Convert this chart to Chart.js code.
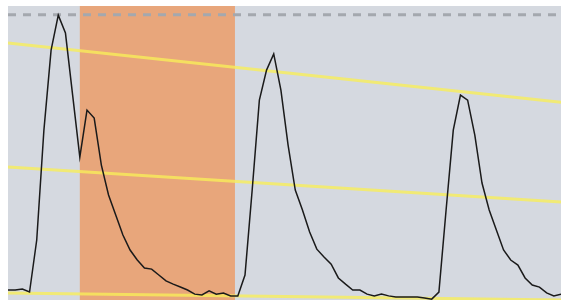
<!DOCTYPE html>
<html>
<head>
<meta charset="utf-8">
<script src="https://cdn.jsdelivr.net/npm/chart.js@4"></script>
<style>
  html, body { margin: 0; padding: 0; background: #fff; }
  #wrap { width: 561px; height: 300px; }
</style>
</head>
<body>
<div id="wrap"><canvas id="chart"></canvas></div>
<script>
// signal samples (one per step)
const signal = [3.4, 3.4, 3.7, 2.7, 20.4, 57.8, 85.0, 96.9, 90.8, 69.7,
  48.6, 64.6, 61.9, 45.9, 35.7, 28.9, 22.1, 17.0, 13.6, 10.9,
  10.5, 8.5, 6.5, 5.4, 4.4, 3.4, 2.0, 1.7, 3.1, 2.0,
  2.4, 1.4, 1.4, 8.5, 37.4, 68.0, 78.2, 83.7, 71.4, 52.7,
  37.4, 30.6, 23.1, 17.3, 14.6, 12.2, 7.5, 5.4, 3.4, 3.4,
  2.0, 1.4, 2.0, 1.4, 1.0, 1.0, 1.0, 1.0, 0.7, 0.3,
  2.7, 30.6, 57.8, 69.7, 68.0, 56.1, 39.8, 30.6, 23.8, 17.0,
  13.6, 11.9, 7.5, 5.1, 4.4, 2.4, 1.4, 2.0];

// trend lines: [value at start, value at end]
const trendHigh = [87.4, 67.3];
const trendMid = [45.2, 33.3];
const trendLow = [2.4, 0.0];

// threshold and highlighted window
const threshold = 97.0;
const bandStart = 10;
const bandEnd = 31.6;

const lastX = signal.length - 1;
const signalPoints = signal.map((v, i) => ({ x: i, y: v }));
const trend = (t) => [{ x: 0, y: t[0] }, { x: lastX, y: t[1] }];

const areaPlugin = {
  id: 'area',
  beforeDatasetsDraw(c) {
    const { ctx, chartArea: a, scales } = c;
    ctx.save();
    ctx.fillStyle = '#d5d9e0';
    ctx.fillRect(a.left, a.top, a.right - a.left, a.bottom - a.top);
    const x1 = scales.x.getPixelForValue(bandStart);
    const x2 = scales.x.getPixelForValue(bandEnd);
    ctx.fillStyle = '#e8a67b';
    ctx.fillRect(x1, a.top, x2 - x1, a.bottom - a.top);
    ctx.restore();
  }
};

const yellow = 'rgba(248,238,90,0.8)';

new Chart(document.getElementById('chart'), {
  type: 'line',
  data: {
    datasets: [
      { data: signalPoints, borderColor: '#1a1a1a', borderWidth: 1.5, pointRadius: 0, tension: 0, order: 0 },
      { data: trend(trendHigh), borderColor: yellow, borderWidth: 3, pointRadius: 0, order: 1 },
      { data: trend(trendMid), borderColor: yellow, borderWidth: 3, pointRadius: 0, order: 1 },
      { data: trend(trendLow), borderColor: yellow, borderWidth: 3, pointRadius: 0, order: 1 },
      { data: [{ x: 0, y: threshold }, { x: lastX, y: threshold }], borderColor: '#a4a8ae',
        borderWidth: 3, borderDash: [8, 7], pointRadius: 0, order: 2 }
    ]
  },
  options: {
    responsive: true,
    maintainAspectRatio: false,
    animation: false,
    layout: { padding: { left: 8, top: 6, right: 0, bottom: 0 } },
    plugins: { legend: { display: false }, tooltip: { enabled: false } },
    scales: {
      x: { type: 'linear', min: 0, max: lastX, display: false },
      y: { min: 0, max: 100, display: false }
    }
  },
  plugins: [areaPlugin]
});
</script>
</body>
</html>
